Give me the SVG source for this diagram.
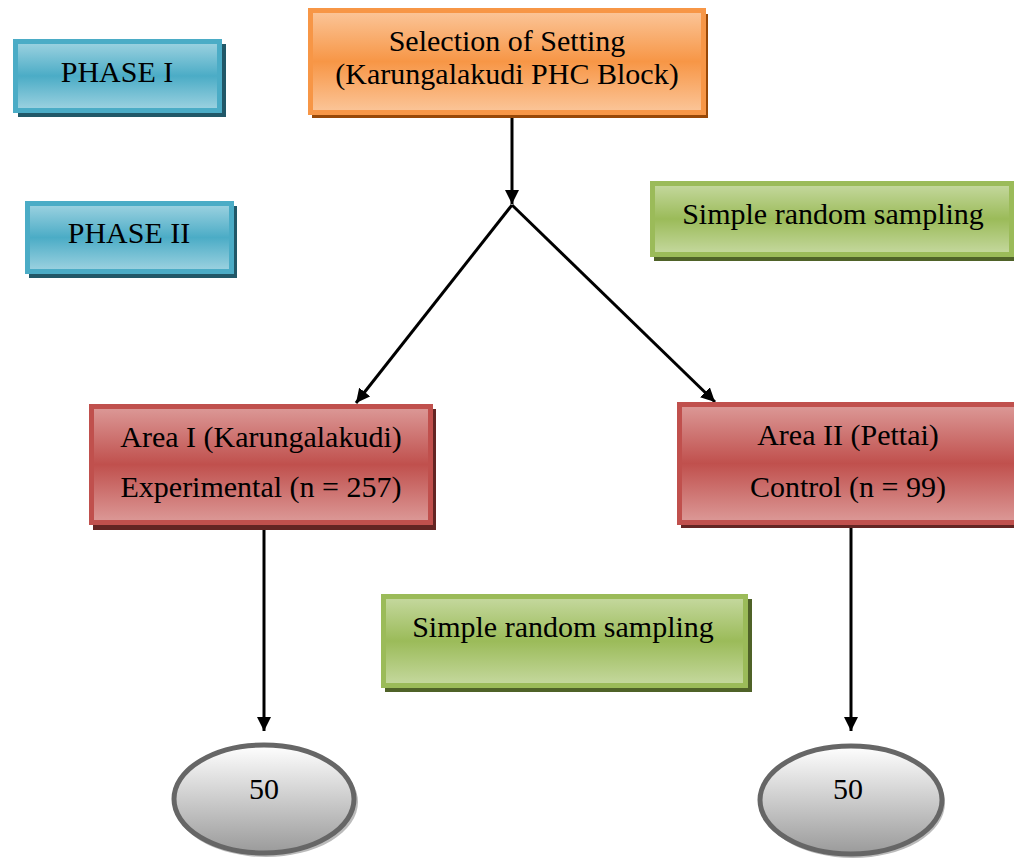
<svg xmlns="http://www.w3.org/2000/svg" width="1014" height="863" viewBox="0 0 1014 863">
<defs>
<linearGradient id="gBlue" x1="0" y1="0" x2="0" y2="1">
<stop offset="0" stop-color="#9FD3E1"/><stop offset="0.5" stop-color="#4BACC6"/><stop offset="1" stop-color="#9FD3E1"/>
</linearGradient>
<linearGradient id="gOrange" x1="0" y1="0" x2="0" y2="1">
<stop offset="0" stop-color="#FBC69A"/><stop offset="0.5" stop-color="#F79646"/><stop offset="1" stop-color="#FBC69A"/>
</linearGradient>
<linearGradient id="gGreen" x1="0" y1="0" x2="0" y2="1">
<stop offset="0" stop-color="#C6D9A0"/><stop offset="0.5" stop-color="#9BBB59"/><stop offset="1" stop-color="#C6D9A0"/>
</linearGradient>
<linearGradient id="gRed" x1="0" y1="0" x2="0" y2="1">
<stop offset="0" stop-color="#DC9A98"/><stop offset="0.5" stop-color="#C0504D"/><stop offset="1" stop-color="#DC9A98"/>
</linearGradient>
<linearGradient id="gGray" x1="0" y1="0" x2="0" y2="1">
<stop offset="0" stop-color="#FFFFFF"/><stop offset="1" stop-color="#9A9A9A"/>
</linearGradient>
<marker id="arr" viewBox="0 0 10 10" refX="10" refY="5" markerUnits="userSpaceOnUse" markerWidth="14" markerHeight="14" orient="auto">
<path d="M0,0 L10,5 L0,10 Z" fill="#000"/>
</marker>
<style>
text{font-family:"Liberation Serif","Times New Roman",serif;font-size:30px;fill:#000;text-anchor:middle}
.blue{fill:url(#gBlue);stroke:#4BACC6;stroke-width:5}
.orange{fill:url(#gOrange);stroke:#F79646;stroke-width:5}
.green{fill:url(#gGreen);stroke:#9BBB59;stroke-width:5}
.red{fill:url(#gRed);stroke:#C0504D;stroke-width:5}
.sBlue{fill:#215868}.sOrange{fill:#984807}.sGreen{fill:#4F6228}.sRed{fill:#632523}
.conn{stroke:#000;stroke-width:3;fill:none;marker-end:url(#arr)}
.oval{fill:url(#gGray);stroke:#666;stroke-width:5}
</style>
</defs>
<g id="connectors">
<line class="conn" x1="512" y1="112" x2="512" y2="204"/>
<line class="conn" x1="512" y1="205" x2="356" y2="403"/>
<line class="conn" x1="512" y1="205" x2="715" y2="402"/>
<line class="conn" x1="264" y1="530" x2="264" y2="731"/>
<line class="conn" x1="851" y1="527" x2="851" y2="731"/>
</g>
<g id="phase1">
<rect class="sBlue" x="18" y="44" width="208" height="73"/>
<rect class="blue" x="15.5" y="41.5" width="204" height="69"/>
<text x="117" y="82">PHASE I</text>
</g>
<g id="phase2">
<rect class="sBlue" x="29" y="206" width="208" height="72"/>
<rect class="blue" x="27.5" y="203.5" width="204" height="68"/>
<text x="129" y="243">PHASE II</text>
</g>
<g id="setting">
<rect class="sOrange" x="312" y="14" width="396" height="104"/>
<rect class="orange" x="310.5" y="10.5" width="393" height="102"/>
<text x="507" y="51">Selection of Setting</text>
<text x="507" y="84">(Karungalakudi PHC Block)</text>
</g>
<g id="sampling1">
<rect class="sGreen" x="654" y="186" width="364" height="75"/>
<rect class="green" x="652.5" y="183.5" width="359" height="71"/>
<text x="833" y="224">Simple random sampling</text>
</g>
<g id="area1">
<rect class="sRed" x="93" y="409" width="343" height="121"/>
<rect class="red" x="91.5" y="406.5" width="339" height="116"/>
<text x="261" y="447">Area I (Karungalakudi)</text>
<text x="261" y="497">Experimental (n = 257)</text>
</g>
<g id="area2">
<rect class="sRed" x="681" y="407" width="343" height="121"/>
<rect class="red" x="679.5" y="404.5" width="340" height="118"/>
<text x="848" y="445">Area II (Pettai)</text>
<text x="848" y="497">Control (n = 99)</text>
</g>
<g id="sampling2">
<rect class="sGreen" x="385" y="599" width="367" height="93"/>
<rect class="green" x="383.5" y="596.5" width="362" height="89"/>
<text x="563" y="637">Simple random sampling</text>
</g>
<g id="result1">
<ellipse cx="266" cy="802" rx="92" ry="55" fill="#BBB"/>
<ellipse class="oval" cx="264" cy="799" rx="90" ry="54"/>
<text x="264" y="799">50</text>
</g>
<g id="result2">
<ellipse cx="853" cy="803" rx="92" ry="55" fill="#BBB"/>
<ellipse class="oval" cx="851" cy="800" rx="91" ry="54"/>
<text x="848" y="799">50</text>
</g>
</svg>
